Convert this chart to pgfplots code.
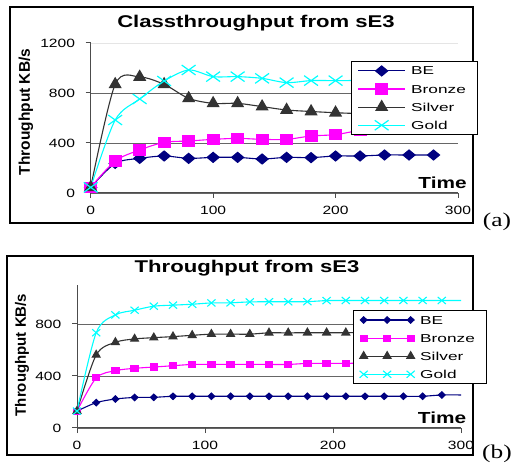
\documentclass[border=0pt]{standalone}
\usepackage{fontspec}
\setmainfont{Liberation Sans}[FakeStretch=1.3]
\newfontfamily\legfont{Liberation Sans}[FakeStretch=1.5]
\newfontfamily\ylfont{Liberation Sans}
\newfontfamily\capfont{Liberation Serif}[FakeStretch=1.3]
\usepackage{pgfplots}
\pgfplotsset{compat=1.18}
\definecolor{be}{RGB}{0,0,128}
\definecolor{bronze}{RGB}{255,0,255}
\definecolor{silver}{RGB}{51,51,51}
\definecolor{gold}{RGB}{0,255,255}
\pgfplotsset{
  chartstyle/.style={
    scale only axis, xmin=0, xmax=300, ymin=0,
    axis x line=bottom, axis y line=left,
    axis line style={-, black!70, line width=1pt},
    tick align=outside, major tick length=5pt,
    tick style={black!70, line width=1pt},
    xtick={0,100,200,300},
    ymajorgrids, grid style={black!60, line width=0.8pt},
    tick label style={font=\fontsize{12}{14}\selectfont, inner sep=0pt},
    /pgf/number format/assume math mode=true,
    /pgf/number format/1000 sep={},
    yticklabel style={xshift=-10.5pt},
    xticklabel style={yshift=-8pt},
    legend cell align=left,
    legend style={draw=black, line width=1pt, fill=white,
      inner xsep=6pt, inner ysep=0.4pt,
      font=\legfont\fontsize{11.5}{13}\selectfont,
      nodes={inner xsep=5.5pt, inner ysep=0pt, text height=13.1pt, text depth=5pt},
      anchor=north west},
    legend image code/.code={\draw[mark repeat=2,mark phase=2,##1] plot coordinates {(0pt,0pt) (23.5pt,0pt) (47pt,0pt)};},
  }
}
\begin{document}
\begin{tikzpicture}
\path[use as bounding box] (0,0) rectangle (513pt,465pt);
% ---------------- (a) ----------------
\draw[black, line width=1.5pt] (10pt,458pt) rectangle (473pt,242pt);
\begin{axis}[chartstyle, at={(90.7pt,272pt)}, anchor=south west,
  width=367.3pt, height=150pt, ymax=1200,
  ytick={0,400,800}, extra y ticks={1200}, extra y tick style={grid style={black!10}},
  legend style={at={(0.709,0.88)}}]
\addplot[be, line width=1.1pt, smooth, tension=0.5, mark=diamond*, mark size=5pt,
  mark options={solid, fill=be, xscale=1.6}] coordinates {
  (0,45)(20,237)(40,277)(60,296)(80,277)(100,285)(120,285)(140,272)(160,285)(180,283)(200,296)(220,296)(240,304)(260,304)(280,304)};
\addlegendentry{BE}
\addplot[bronze, line width=1.1pt, smooth, tension=0.5, mark=square*, mark size=5pt,
  mark options={solid, fill=bronze, xscale=1.2}] coordinates {
  (0,45)(20,256)(40,344)(60,405)(80,416)(100,429)(120,437)(140,429)(160,429)(180,456)(200,467)(220,500)(240,505)(260,510)(280,510)};
\addlegendentry{Bronze}
\addplot[silver, line width=1.1pt, smooth, tension=0.5, mark=triangle*, mark size=6.5pt,
  mark options={solid, fill=silver}] coordinates {
  (0,45)(20,869)(40,928)(60,869)(80,757)(100,717)(120,717)(140,691)(160,664)(180,652)(200,642)(220,635)(240,630)(260,625)(280,620)};
\addlegendentry{Silver}
\addplot[gold, line width=1.1pt, smooth, tension=0.5, mark=x, mark size=7pt,
  mark options={solid, line width=1.2pt, xscale=1.4}] coordinates {
  (0,45)(20,584)(40,752)(60,896)(80,984)(100,931)(120,931)(140,917)(160,883)(180,899)(200,899)(220,900)(240,900)(260,900)(280,900)};
\addlegendentry{Gold}
\end{axis}
\node[font=\fontsize{17}{20}\selectfont\bfseries] at (256pt,442pt) {Classthroughput from sE3};
\node[rotate=90, font=\ylfont\fontsize{15.5}{17}\selectfont\bfseries] at (26pt,353pt) {Throughput KB/s};
\node[font=\fontsize{16}{18}\selectfont\bfseries] at (442.5pt,282pt) {Time};
\node[font=\capfont\fontsize{19.5}{22}\selectfont] at (497pt,243pt) {(a)};
% ---------------- (b) ----------------
\draw[black, line width=1.5pt] (7pt,209pt) rectangle (473pt,10pt);
\begin{axis}[chartstyle, at={(77pt,37pt)}, anchor=south west,
  width=384pt, height=143pt, ymax=1100,
  ytick={0,400,800},
  legend style={at={(0.719,0.825)}}]
\addplot[be, line width=1.1pt, smooth, tension=0.5, mark=diamond*, mark size=3.2pt,
  mark options={solid, fill=be, xscale=1.4}, mark indices={1,2,3,4,5,6,7,8,9,10,11,12,13,14,15,16,17,18,19,20}] coordinates {
  (0,130)(15,195)(30,223)(45,235)(60,236)(75,244)(90,244)(105,244)(120,244)(135,244)(150,244)(165,244)(180,244)(195,244)(210,244)(225,244)(240,244)(255,244)(270,244)(285,254)(300,254)};
\addlegendentry{BE}
\addplot[bronze, line width=1.1pt, smooth, tension=0.5, mark=square*, mark size=3pt,
  mark options={solid, fill=bronze, xscale=1.2}, mark indices={1,2,3,4,5,6,7,8,9,10,11,12,13,14,15,16,17,18,19,20}] coordinates {
  (0,130)(15,385)(30,441)(45,459)(60,469)(75,479)(90,489)(105,489)(120,489)(135,489)(150,489)(165,489)(180,497)(195,497)(210,497)(225,500)(240,500)(255,500)(270,500)(285,500)(300,500)};
\addlegendentry{Bronze}
\addplot[silver, line width=1.1pt, smooth, tension=0.5, mark=triangle*, mark size=4.5pt,
  mark options={solid, fill=silver}, mark indices={1,2,3,4,5,6,7,8,9,10,11,12,13,14,15,16,17,18,19,20}] coordinates {
  (0,130)(15,562)(30,659)(45,685)(60,695)(75,703)(90,713)(105,722)(120,722)(135,722)(150,732)(165,732)(180,733)(195,733)(210,733)(225,735)(240,735)(255,735)(270,735)(285,735)(300,735)};
\addlegendentry{Silver}
\addplot[gold, line width=1.1pt, smooth, tension=0.5, mark=x, mark size=5pt,
  mark options={solid, line width=1.1pt, xscale=1.15}, mark indices={1,2,3,4,5,6,7,8,9,10,11,12,13,14,15,16,17,18,19,20}] coordinates {
  (0,130)(15,733)(30,870)(45,906)(60,937)(75,945)(90,952)(105,962)(120,963)(135,970)(150,971)(165,971)(180,972)(195,980)(210,981)(225,981)(240,981)(255,981)(270,981)(285,981)(300,981)};
\addlegendentry{Gold}
\end{axis}
\node[font=\fontsize{17}{20}\selectfont\bfseries] at (247pt,197pt) {Throughput from sE3};
\node[rotate=90, font=\ylfont\fontsize{15}{17}\selectfont\bfseries] at (22pt,110pt) {Throughput KB/s};
\node[font=\fontsize{16}{18}\selectfont\bfseries] at (442pt,47pt) {Time};
\node[font=\capfont\fontsize{19.5}{22}\selectfont] at (497pt,11pt) {(b)};
\end{tikzpicture}
\end{document}
